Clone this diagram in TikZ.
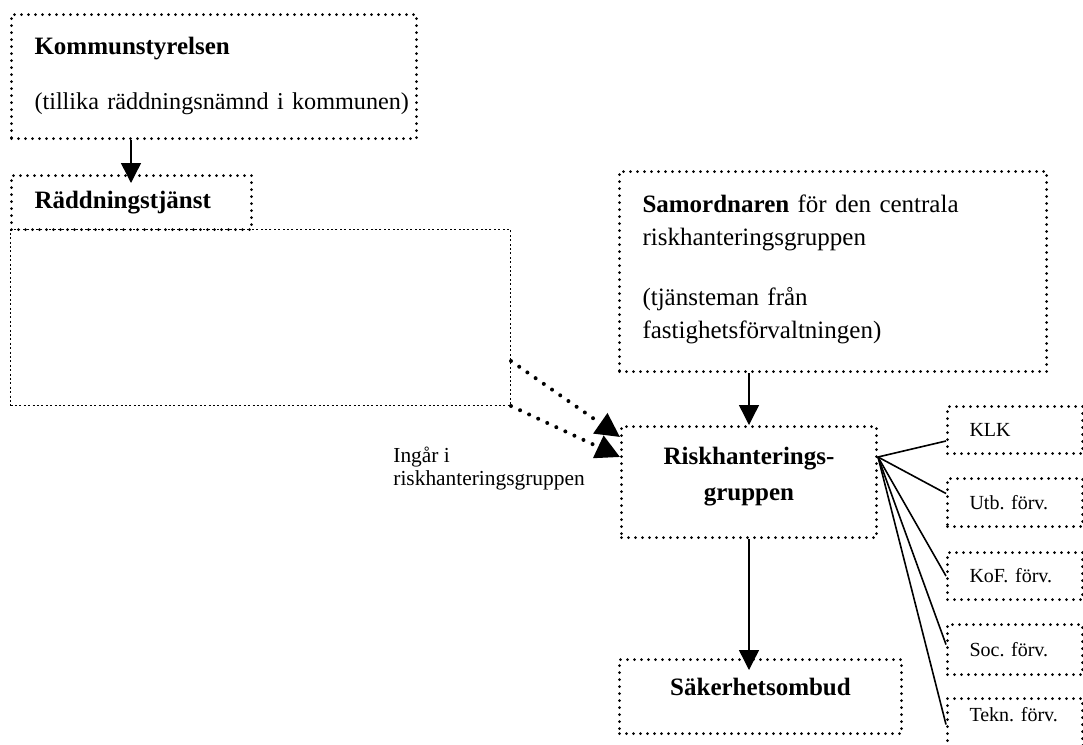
\documentclass[tikz,border=0pt]{standalone}
\usepackage{fontspec}
\setmainfont{Liberation Serif}
\usepackage{tikz}
\usetikzlibrary{calc}
\usetikzlibrary{arrows.meta}
\frenchspacing
\newcommand{\enhet}[4]{\node[liten, minimum height=#3] (#1) at (946,#2) {#4};}

\begin{document}
\begin{tikzpicture}[x=0.5pt, y=-0.5pt,
    ruta/.style={draw, line width=1.5pt, dash pattern=on 0pt off 3.5pt, line cap=round,
        anchor=north west, inner xsep=11.5pt, inner ysep=0pt, align=left,
        font=\fontsize{12.5}{16.5}\selectfont},
    liten/.style={ruta, minimum width=67.5pt, text width=45.5pt, inner xsep=11pt,
        font=\fontsize{10}{12}\selectfont},
    pil/.style={line width=0.7pt, -{Triangle[length=10pt,width=10pt]}},
    prickpil/.style={line width=2pt, dash pattern=on 0pt off 5pt, line cap=round,
        -{Triangle[length=12pt,width=12pt]}},
    tunn/.style={line width=0.8pt}]
    \useasboundingbox (0,0) rectangle (1083,745);
    % left column
    \node[ruta, minimum width=202.5pt, minimum height=62pt, text width=179.5pt, text depth=31pt] (komm) at (10,13)
        {\textbf{Kommunstyrelsen}\\[11pt]\mbox{\fontsize{12.1}{16.5}\selectfont(tillika räddningsnämnd i kommunen)}};
    \node[ruta, minimum width=120pt, minimum height=27pt, text width=97pt] (radd) at (10,174)
        {\textbf{Räddningstjänst}};
    \node[draw, line width=0.5pt, dash pattern=on 1pt off 1.2pt, anchor=north west,
        minimum width=250pt, minimum height=88pt] (omrade) at (10,229) {};
    \node[anchor=north west, inner sep=0pt, align=left, font=\fontsize{10.7}{11.2}\selectfont] (ingar) at (393,447)
        {Ingår i\\riskhanteringsgruppen};
    % right column
    \node[ruta, minimum width=213.5pt, minimum height=100pt, text width=190.5pt, text depth=68pt] (samo) at (618,170)
        {\textbf{Samordnaren} för den centrala\\riskhanteringsgruppen\\[13.5pt](tjänsteman från\\fastighetsförvaltningen)};
    \node[ruta, minimum width=127.5pt, minimum height=55.5pt, text width=119.5pt, inner xsep=4pt,
        align=center, text depth=26.5pt] (risk) at (620,425)
        {\textbf{Riskhanterings-}\\[1.5pt]\textbf{gruppen}};
    \node[ruta, minimum width=141pt, minimum height=37pt, text width=133pt, inner xsep=4pt,
        align=center, text depth=10pt] (saker) at (618,658)
        {\textbf{Säkerhetsombud}};
    % units
    \enhet{klk}{405}{23.5pt}{KLK}
    \enhet{utb}{477}{24pt}{Utb. förv.}
    \enhet{kof}{551}{23.5pt}{KoF. förv.}
    \enhet{soc}{623}{25pt}{Soc. förv.}
    \node[liten, minimum height=26pt, text depth=10pt] (tekn) at (946,697) {\mbox{Tekn. förv.}};
    % arrows
    \draw[pil, shorten >=-4.5pt] ([xshift=60.5pt]komm.south west) -- ([xshift=60.5pt]radd.north west);
    \draw[pil] (samo.south -| risk.north) -- (risk.north);
    \draw[pil, shorten >=-6pt] (risk.south) -- (risk.south |- saker.north);
    \draw[prickpil] ([yshift=22.5pt]omrade.south east) -- ([yshift=-6pt]risk.north west);
    \draw[prickpil] (omrade.south east) -- ([yshift=-16pt]risk.north west);
    % lines to units
    \coordinate (nav) at ([yshift=-16pt]risk.north east);
    \draw[tunn] (nav) -- ([yshift=-5.5pt]klk.west);
    \draw[tunn] (nav) -- ([yshift=4.5pt]utb.west);
    \draw[tunn] (nav) -- (kof.west);
    \draw[tunn] (nav) -- ([yshift=2.5pt]soc.west);
    \draw[tunn] (nav) -- (tekn.west);
\end{tikzpicture}
\end{document}
